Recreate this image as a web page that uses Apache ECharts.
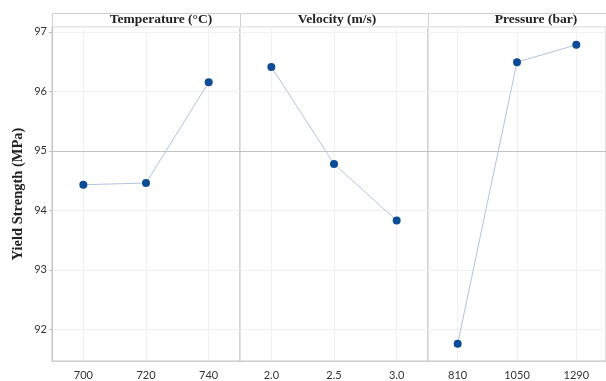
<!DOCTYPE html>
<html>
<head>
<meta charset="utf-8">
<script src="https://cdn.jsdelivr.net/npm/echarts@6/dist/echarts.min.js"></script>
<style>
  html, body { margin: 0; padding: 0; background: #fff; }
  #chart { width: 606px; height: 381px; }
</style>
</head>
<body>
<div id="chart"></div>
<script>
  // main effects for yield strength
  var panelTitles = ['Temperature (°C)', 'Velocity (m/s)', 'Pressure (bar)'];
  var tempLevels = ['700', '720', '740'];
  var velLevels = ['2.0', '2.5', '3.0'];
  var presLevels = ['810', '1050', '1290'];
  var tempMeans = [94.43, 94.46, 96.15];
  var velMeans = [96.41, 94.78, 93.83];
  var presMeans = [91.76, 96.49, 96.78];
  var grandMean = 95;

  var levels = [tempLevels, velLevels, presLevels];
  var means = [tempMeans, velMeans, presMeans];

  var left0 = 52, panelW = 188, plotTop = 27, plotH = 337;
  var titleShift = [15, 3, 14];
  var labelFont = 'Lato, "Open Sans", sans-serif';
  var serif = '"Liberation Serif", "DejaVu Serif", serif';

  var grids = [], xAxes = [], yAxes = [], series = [], graphics = [];

  for (var i = 0; i < 3; i++) {
    grids.push({
      left: left0 + panelW * i, top: plotTop, width: panelW, height: plotH,
      show: true, borderColor: '#c4c4c4', borderWidth: 1, backgroundColor: '#fff'
    });
    xAxes.push({
      type: 'category', gridIndex: i, data: levels[i], boundaryGap: true,
      axisLine: { lineStyle: { color: '#cfcfcf' } },
      axisTick: { show: false },
      axisLabel: { color: '#333', fontFamily: labelFont, fontSize: 11, margin: 9 },
      splitLine: { show: false }
    });
    yAxes.push({
      type: 'value', gridIndex: i, min: 91.47, max: 97.08, splitNumber: 6,
      name: i === 0 ? 'Yield Strength (MPa)' : '',
      nameLocation: 'middle', nameGap: 26,
      nameTextStyle: { fontFamily: serif, fontWeight: 'bold', fontSize: 14.5, color: '#222' },
      axisLine: { show: i === 0, lineStyle: { color: '#c4c4c4' } },
      axisTick: { show: i === 0, length: 3, lineStyle: { color: '#bbb' } },
      axisLabel: {
        show: i === 0, color: '#333', fontFamily: labelFont, fontSize: 11, margin: 5,
        padding: [5, 0, 0, 0],
        showMinLabel: false, showMaxLabel: false
      },
      splitLine: { show: true, lineStyle: { color: '#f0f0f0' } }
    });
    var vlines = levels[i].map(function (lv) {
      return { xAxis: lv, lineStyle: { color: '#f1f1f1' } };
    });
    series.push({
      type: 'line', xAxisIndex: i, yAxisIndex: i, data: means[i],
      symbol: 'circle', symbolSize: 8,
      itemStyle: { color: '#0c4b96' },
      lineStyle: { color: '#b3c5dc', width: 1 },
      markLine: {
        silent: true, symbol: 'none', label: { show: false }, z: 1,
        lineStyle: { color: '#c2c2c2', type: 'solid', width: 1 },
        data: vlines.concat([{ yAxis: grandMean }])
      },
      z: 3
    });
    graphics.push({
      type: 'rect',
      shape: { x: left0 + panelW * i + 0.5, y: 13.5, width: panelW, height: 13.5 },
      style: { fill: '#fff', stroke: '#d0d0d0', lineWidth: 1 }
    });
    graphics.push({
      type: 'text',
      x: left0 + panelW * i + panelW / 2 + titleShift[i], y: 20,
      style: {
        text: panelTitles[i], fontFamily: serif, fontWeight: 'bold', fontSize: 13.5,
        fill: '#222', textAlign: 'center', textVerticalAlign: 'middle'
      }
    });
  }

  var chart = echarts.init(document.getElementById('chart'));
  chart.setOption({
    animation: false,
    backgroundColor: '#fff',
    grid: grids,
    xAxis: xAxes,
    yAxis: yAxes,
    series: series,
    graphic: graphics
  });
</script>
</body>
</html>
